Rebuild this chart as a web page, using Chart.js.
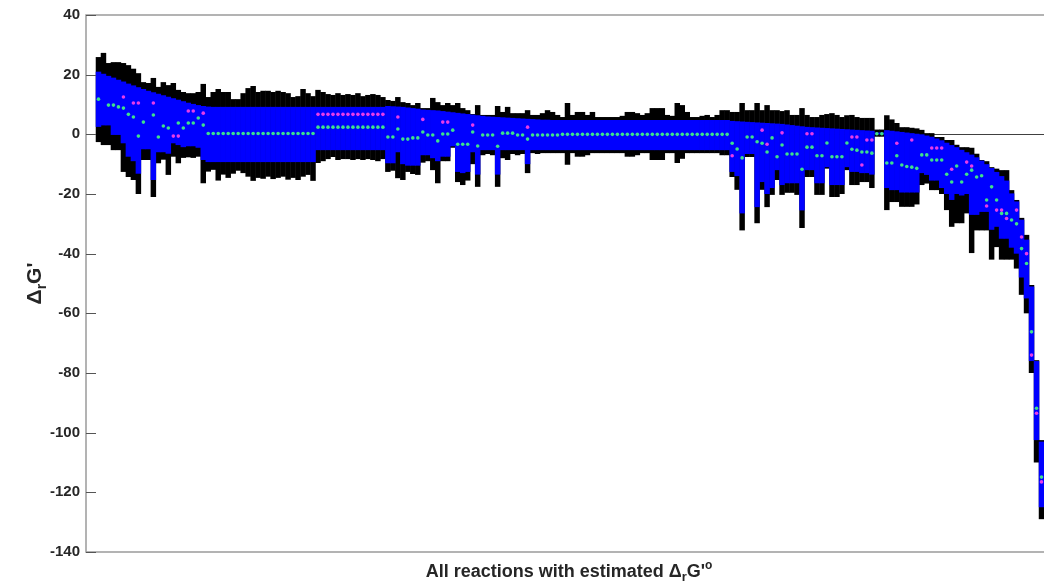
<!DOCTYPE html>
<html>
<head>
<meta charset="utf-8">
<script src="https://cdn.jsdelivr.net/npm/chart.js@4.4.1/dist/chart.umd.min.js"></script>
<style>
  html, body { margin: 0; background: #fff; overflow: hidden; }
</style>
</head>
<body>
<canvas id="chart" width="1048" height="581"></canvas>
<script>
// one entry per reaction, sorted as in the figure
const blackTop = [
  25.9, 27.3, 23.9, 24.2, 24.2, 23.9, 23.2, 22.0, 20.5, 17.5, 17.2, 18.9, 15.9, 17.5, 16.5, 17.2, 14.9, 14.2, 13.8, 13.8, 14.2, 16.9, 12.5,
  14.2, 15.2, 14.2, 14.2, 11.8, 11.8, 13.8, 15.5, 16.2, 14.2, 14.6, 14.6, 14.2, 14.6, 14.2, 13.8, 12.5, 12.8, 15.2, 13.8, 12.8,
  14.9, 14.2, 13.5, 13.2, 13.8, 13.2, 13.5, 13.2, 13.8, 12.8, 13.2, 13.5, 13.2, 12.5,
  11.5, 11.2, 12.5, 10.8, 10.5, 9.8, 10.5,
  8.8, 8.8, 12.2, 10.8, 9.8, 10.5, 9.8, 10.5, 8.8, 8.1, 6.8, 9.8, 6.5, 6.5, 6.5, 9.5, 7.5, 9.2, 7.1, 7.1, 7.1, 8.1, 6.5, 6.5, 7.1, 8.1, 7.5, 6.5,
  5.8, 10.5, 6.5, 7.5, 7.5, 6.5, 7.5, 5.8, 5.8, 5.8, 5.8, 5.8, 6.2, 7.5, 7.5, 7.1, 6.5, 7.1, 8.8, 8.8, 8.8, 6.5, 6.2, 10.5, 9.8, 7.5, 5.8, 5.8, 6.2, 6.5, 5.8, 6.5, 8.1, 8.1,
  7.5, 7.5, 10.5, 8.1, 8.1, 10.5, 8.1, 9.8, 8.1, 8.1, 7.8, 8.1, 6.5, 6.5,
  8.8, 6.5, 5.8, 5.8, 6.5, 6.8, 7.1, 6.5, 5.8, 6.4, 6.5, 5.8, 5.5, 5.5, 5.5,
  1.6, 1.6,
  6.4, 5, 3.8, 2.4, 2.4, 2.2, 2, 1.5, 0.4, 0.4, -0.9, -0.9, -1.9, -1.9, -3.5, -4.3, -4.3, -4.5, -6.5, -8.6, -9, -11, -11.5, -12, -12, -18.7, -22, -28, -33.7, -50.5, -75.7, -102.5
];
const blackBot = [
  -2.6, -3.6, -3.6, -5.3, -5.3, -12.6, -14.3, -15.3, -20, -8.6, -8.6, -21, -9.7, -8.5, -13.6, -7.5, -9.7, -7.9, -7.7, -7.9, -7.5, -16.4, -12.5,
  -11.9, -15.5, -13.5, -14.6, -13.2, -12.2, -13, -14.2, -15.6, -14.6, -14.9, -14.2, -15, -14.6, -14.2, -15.2, -14.6, -15.3, -14.2, -13.6, -15.6,
  -9.6, -9, -8.3, -7.6, -8.6, -8.3, -8.3, -8.6, -8.3, -8.6, -8.3, -8.6, -9, -8.3,
  -12.6, -12.2, -14.7, -15.3, -12.6, -13.3, -13.6,
  -9.5, -9, -12, -16.4, -9, -9, -4.5, -16, -17, -15.5, -10, -17.6, -7, -6.6, -7, -17.6, -8, -8.6, -6.6, -7, -6.6, -13, -6.3, -6.6, -6.3, -6.3, -6.3, -6.3,
  -6.3, -10.2, -6.3, -7.5, -7.5, -7, -6.3, -6.3, -6.3, -6.3, -6.3, -6.3, -6.3, -7.5, -7.5, -7, -6.3, -6.3, -8.6, -8.6, -8.6, -6.3, -6.3, -9.6, -8.2, -6.3, -6.3, -6.3, -6.3, -6.3, -6.3, -6.3, -7, -7,
  -14.3, -18.6, -32.2, -7.6, -7.6, -29.8, -18.6, -24.4, -20.3, -15.3, -20.3, -19.6, -19.6, -20.3,
  -31.4, -14.3, -14.3, -20.3, -20.3, -11.5, -21, -21, -20, -12, -17, -17, -16, -16, -18,
  -0.8, -0.8,
  -25.4, -22.7, -22.7, -24.3, -24.3, -24.3, -23.5, -17, -16.5, -18.7, -18.7, -20, -25.4, -31, -29.8, -29.8, -26.5, -39.8, -32.2, -32.2, -32.2, -42, -37.8, -42, -42, -42, -45, -53.8, -60, -80, -110, -129
];
const blueTop = [
  21, 20.3, 19.6, 19, 18.3, 17.7, 17, 16.4, 15.8, 15.2, 14.6, 14.1, 13.6, 13.1, 12.6, 12.1, 11.6, 11.1, 10.6, 10.2, 9.8, 9.5, 9.3,
  9.2, 9.2, 9.2, 9.2, 9.2, 9.2, 9.2, 9.2, 9.2, 9.2, 9.2, 9.2, 9.2, 9.2, 9.2, 9.2, 9.2, 9.2, 9.2, 9.2, 9.2,
  9.2, 9.2, 9.2, 9.2, 9.2, 9.2, 9.2, 9.2, 9.2, 9.2, 9.2, 9.2, 9.2, 9.2,
  9.5, 9.4, 9.3, 9.2, 9.0, 8.8, 8.6,
  8.3, 8.2, 8.1, 8.0, 7.8, 7.6, 7.4, 7.2, 7.0, 6.8, 6.6, 6.4, 6.2, 6.0, 5.9, 5.8, 5.7, 5.6, 5.5, 5.4, 5.3, 5.2, 5.1, 5.0, 4.9, 4.9, 4.8, 4.8,
  4.8, 4.8, 4.8, 4.8, 4.8, 4.8, 4.8, 4.8, 4.8, 4.8, 4.8, 4.8, 4.8, 4.8, 4.8, 4.8, 4.8, 4.8, 4.8, 4.8, 4.8, 4.8, 4.8, 4.8, 4.8, 4.8, 4.8, 4.8, 4.8, 4.8, 4.8, 4.8, 4.8, 4.8,
  4.5, 4.4, 4.3, 4.2, 4.1, 4.0, 3.9, 3.8, 3.7, 3.6, 3.5, 3.3, 3.1, 2.9,
  2.7, 2.5, 2.4, 2.3, 2.2, 2.1, 2.0, 1.9, 1.8, 1.7, 1.6, 1.5, 1.4, 1.3, 1.2,
  0.6, 0.6,
  1.4, 1.2, 1.0, 0.8, 0.6, 0.4, 0.2, 0, -0.4, -0.8, -1.4, -2.0, -2.8, -3.6, -4.3, -5.2, -6, -6.8, -7.7, -8.8, -10, -11.3, -12.6, -14, -15.5, -19.8, -22.5, -28.6, -35.3, -51, -76, -103
];
const blueBot = [
  2.5, 3, 3, -0.2, -0.2, -3, -7.5, -9, -13.2, -5, -5, -15.3, -6, -6, -6.5, -3, -3.6, -4.3, -4, -4, -4.5, -8.6, -9.3,
  -9.3, -9.3, -9.3, -9.3, -9.3, -9.3, -9.3, -9.3, -9.3, -9.3, -9.3, -9.3, -9.3, -9.3, -9.3, -9.3, -9.3, -9.3, -9.3, -9.3, -9.3,
  -5.3, -5.3, -5.3, -5.3, -5.3, -5.3, -5.3, -5.3, -5.3, -5.3, -5.3, -5.3, -5.3, -5.3,
  -9.7, -9.7, -6, -10, -10.5, -10.5, -10.5,
  -7, -7, -8, -9, -7.5, -7.5, -4, -12.6, -13, -12.6, -6, -13.5, -5.3, -5.3, -5.3, -13.5, -5.3, -5.3, -5.3, -5.3, -5.3, -10, -5.3, -5.3, -5.3, -5.3, -5.3, -5.3,
  -5.3, -5.3, -5.3, -5.3, -5.3, -5.3, -5.3, -5.3, -5.3, -5.3, -5.3, -5.3, -5.3, -5.3, -5.3, -5.3, -5.3, -5.3, -5.3, -5.3, -5.3, -5.3, -5.3, -5.3, -5.3, -5.3, -5.3, -5.3, -5.3, -5.3, -5.3, -5.3, -5.3, -5.3,
  -12.6, -14, -26.5, -6.6, -6.6, -24.4, -16, -20, -18, -12, -17, -16.4, -16.4, -16.4,
  -25.5, -12, -12, -16.4, -16.4, -11, -17, -17, -17, -11, -12.6, -12.6, -13, -13, -13.5,
  0, 0,
  -18, -18.7, -18.7, -19.5, -19.5, -19.5, -19.5, -13, -13.6, -15.5, -15.5, -18, -20, -22, -20, -20.5, -20, -27, -27, -26, -26, -32, -31, -35, -35, -38, -40, -48, -55, -76, -102.5, -125
];
const greenDots = [
  11.8, null, 9.8, 9.8, 9.2, 8.8, 6.7, 5.8, -0.6, 4.1, null, 6.5, -0.9, 2.8, 2.1, null, 3.8, 2.1, 3.8, 3.8, 5.5, 3.1, 0.3,
  0.3, 0.3, 0.3, 0.3, 0.3, 0.3, 0.3, 0.3, 0.3, 0.3, 0.3, 0.3, 0.3, 0.3, 0.3, 0.3, 0.3, 0.3, 0.3, 0.3, 0.3,
  2.4, 2.4, 2.4, 2.4, 2.4, 2.4, 2.4, 2.4, 2.4, 2.4, 2.4, 2.4, 2.4, 2.4,
  -0.9, -0.9, 1.8, -1.6, -1.6, -1.2, -1.2,
  0.8, -0.2, -0.2, -2.2, 0.1, 0.1, 1.4, -3.3, -3.3, -3.3, 0.8, -3.9, -0.2, -0.2, -0.2, -4, 0.4, 0.4, 0.4, -0.2, -0.2, -1.6, -0.2, -0.2, -0.2, -0.2, -0.2, -0.2,
  0, 0, 0, 0, 0, 0, 0, 0, 0, 0, 0, 0, 0, 0, 0, 0, 0, 0, 0, 0, 0, 0, 0, 0, 0, 0, 0, 0, 0, 0, 0, 0, 0, 0,
  -3, -4.9, -7.9, -0.9, -0.9, -2.5, -3, -5.9, -1.2, -7.5, -3.6, -6.6, -6.6, -6.6,
  -11.7, -4.3, -4.3, -7.2, -7.2, -2.9, -7.5, -7.5, -7.5, -2.9, -5, -5.3, -5.9, -5.9, -6.3,
  0.2, 0.2,
  -9.6, -9.6, -7.2, -10.3, -10.8, -11, -11.4, -6.9, -6.9, -8.6, -8.6, -8.6, -13.4, -16, -10.6, -16, -13.4, -12, -14.3, -13.9, -22, -17.6, -22, -26.5, -26.5, -28.7, -30, -38.3, -43.3, -66.2, -91.8, -114.9
];
const magentaDots = [
  null, null, null, null, null, 12.5, null, 10.5, 10.5, null, null, 10.5, null, null, null, -0.6, -0.6, null, 7.8, 7.8, null, 7.1, null,
  null, null, null, null, null, null, null, null, null, null, null, null, null, null, null, null, null, null, null, null, null,
  6.7, 6.7, 6.7, 6.7, 6.7, 6.7, 6.7, 6.7, 6.7, 6.7, 6.7, 6.7, 6.7, 6.7,
  null, null, 5.8, null, null, null, null,
  5, null, null, null, 4.1, 4.1, null, null, null, null, 3.1, null, null, null, null, null, null, null, null, null, null, 2.4, null, null, null, null, null, null,
  null, null, null, null, null, null, null, null, null, null, null, null, null, null, null, null, null, null, null, null, null, null, null, null, null, null, null, null, null, null, null, null, null, null,
  -7.2, null, null, null, null, null, 1.4, -3.3, null, null, 0.5, null, null, null,
  null, 0.2, 0.2, null, null, null, null, null, null, null, -0.9, -0.9, -10.3, -1.9, -1.9,
  null, null,
  null, null, -3, null, null, -1.9, null, null, null, -4.6, -4.6, -4.6, null, -11.7, null, null, -9.3, -10.6, null, null, -24, null, -25.4, -25.4, -28.2, null, -25.4, -34.4, -40, -74, -93.5, -116.5
];
const yTicks = [40, 20, 0, -20, -40, -60, -80, -100, -120, -140];
const yTitle = [['\u0394', 21, 0], ['r', 14, 5], ['G\'', 21, 0]];
const xTitle = [['All reactions with estimated \u0394', 18, 0], ['r', 13, 4], ['G\'', 18, 0], ['o', 12, -8]];

const FONT = '"Liberation Sans", Arial, sans-serif';
const lead = 2; // empty slots before the first reaction
const labels = [];
for (let i = 0; i < blackTop.length + lead; i++) labels.push(i);
const pad = (arr) => Array(lead).fill(null).concat(arr);

const blackBars = pad(blackTop.map((t, i) => [blackBot[i], t]));
const blueBars = pad(blueTop.map((t, i) => [blueBot[i], t]));

function drawPieces(ctx, pieces, weight) {
  let total = 0;
  pieces.forEach(([t, size]) => {
    ctx.font = weight + ' ' + size + 'px ' + FONT;
    total += ctx.measureText(t).width;
  });
  let x = -total / 2;
  pieces.forEach(([t, size, dy]) => {
    ctx.font = weight + ' ' + size + 'px ' + FONT;
    ctx.fillText(t, x, dy);
    x += ctx.measureText(t).width;
  });
}

const frame = {
  id: 'frame',
  beforeDatasetsDraw(chart) {
    const { ctx, chartArea: a, scales: { y } } = chart;
    const y0 = Math.round(y.getPixelForValue(0)) + 0.5;
    ctx.save();
    ctx.strokeStyle = '#404040';
    ctx.lineWidth = 1;
    ctx.beginPath();
    ctx.moveTo(a.left, y0);
    ctx.lineTo(a.right + 4, y0);
    ctx.stroke();
    ctx.restore();
  },
  afterDraw(chart) {
    const { ctx, chartArea: a, scales: { y } } = chart;
    ctx.save();
    ctx.strokeStyle = '#9a9a9a';
    ctx.lineWidth = 1.5;
    ctx.beginPath();
    ctx.moveTo(a.right + 4, a.top);
    ctx.lineTo(a.left, a.top);
    ctx.lineTo(a.left, a.bottom);
    ctx.lineTo(a.right + 4, a.bottom);
    ctx.stroke();
    ctx.strokeStyle = '#555';
    ctx.lineWidth = 1;
    yTicks.forEach((v) => {
      const py = Math.round(y.getPixelForValue(v)) + 0.5;
      ctx.beginPath();
      ctx.moveTo(a.left, py);
      ctx.lineTo(a.left + 10, py);
      ctx.stroke();
    });

    ctx.fillStyle = '#262626';
    ctx.textBaseline = 'alphabetic';
    ctx.textAlign = 'left';
    ctx.save();
    ctx.translate(41, (a.top + a.bottom) / 2);
    ctx.rotate(-Math.PI / 2);
    drawPieces(ctx, yTitle, 'bold');
    ctx.restore();

    ctx.save();
    ctx.translate(569, 577);
    drawPieces(ctx, xTitle, 'bold');
    ctx.restore();
    ctx.restore();
  }
};

new Chart(document.getElementById('chart'), {
  type: 'bar',
  data: {
    labels: labels,
    datasets: [
      {
        label: 'range',
        data: blackBars,
        backgroundColor: '#000000',
        borderWidth: 0,
        barPercentage: 1.1,
        categoryPercentage: 1,
        grouped: false,
        order: 3
      },
      {
        label: 'estimate range',
        data: blueBars,
        backgroundColor: '#0000ff',
        borderWidth: 0,
        barPercentage: 1.1,
        categoryPercentage: 1,
        grouped: false,
        order: 2
      },
      {
        type: 'line',
        label: 'green',
        data: pad(greenDots),
        showLine: false,
        pointRadius: 1.8,
        pointBorderWidth: 0,
        pointBackgroundColor: '#3ee08c',
        order: 1
      },
      {
        type: 'line',
        label: 'magenta',
        data: pad(magentaDots),
        showLine: false,
        pointRadius: 1.8,
        pointBorderWidth: 0,
        pointBackgroundColor: '#e83ce8',
        order: 0
      }
    ]
  },
  options: {
    responsive: false,
    animation: false,
    layout: { padding: { top: 15, bottom: 29, left: 0, right: 0 } },
    plugins: { legend: { display: false }, tooltip: { enabled: false } },
    scales: {
      x: {
        type: 'category',
        display: false,
        offset: true,
        grid: { display: false }
      },
      y: {
        min: -140,
        max: 40,
        afterFit: (s) => { s.width = 86; },
        grid: { display: false, drawTicks: false },
        border: { display: false },
        ticks: {
          stepSize: 20,
          padding: 6,
          color: '#262626',
          font: { family: FONT, size: 15, weight: 'bold' }
        }
      }
    }
  },
  plugins: [frame]
});
</script>
</body>
</html>
